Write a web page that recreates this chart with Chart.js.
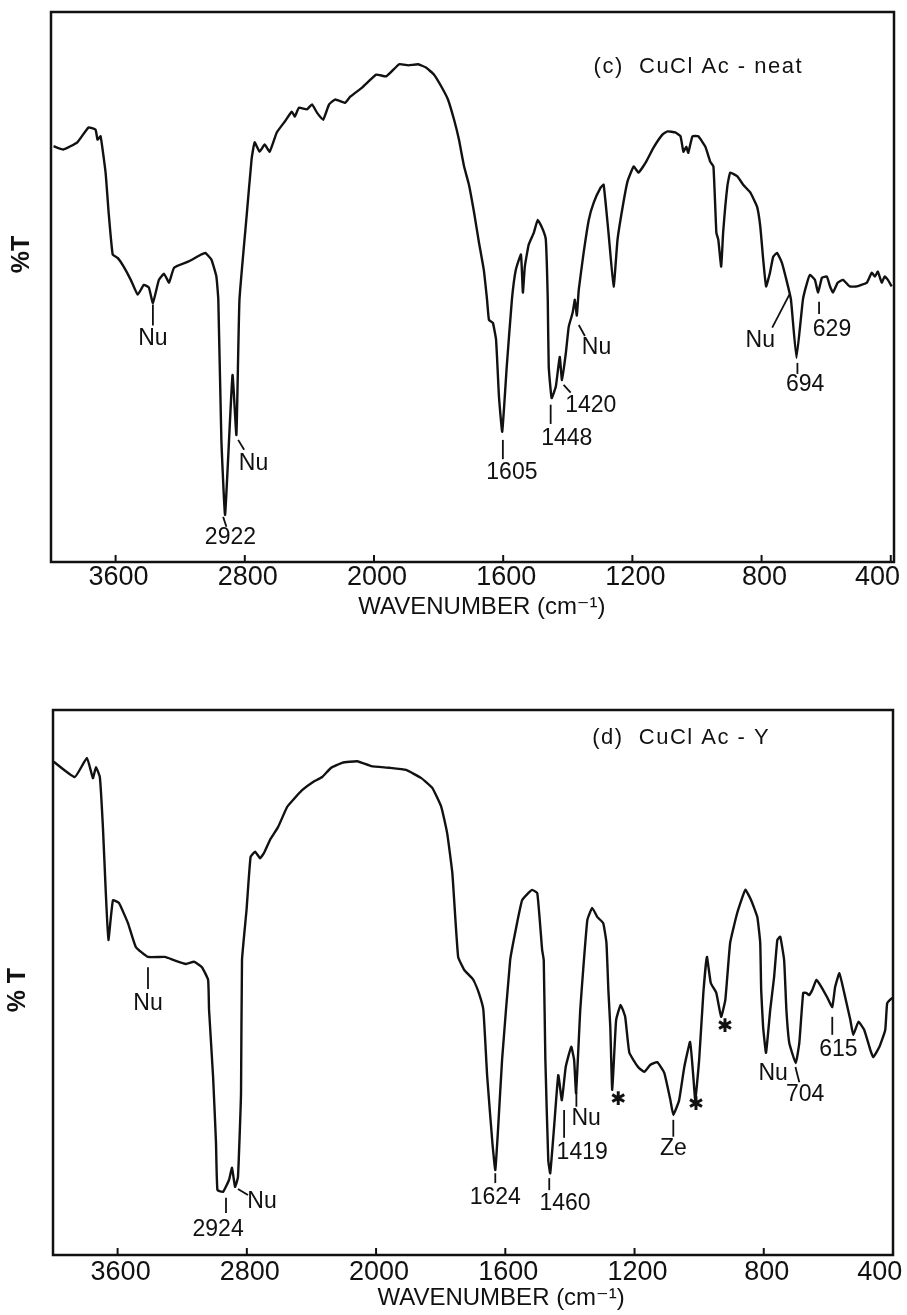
<!DOCTYPE html>
<html>
<head>
<meta charset="utf-8">
<script src="https://cdn.jsdelivr.net/npm/chart.js@4.4.1/dist/chart.umd.min.js"></script>
<style>
  html, body { margin: 0; padding: 0; background: #fff; }
  #wrap { position: relative; width: 907px; height: 1315px; }
  canvas { position: absolute; left: 0; }
  #chartC { top: 0; }
  #chartD { top: 650px; }
</style>
</head>
<body>
<div id="wrap">
  <canvas id="chartC" width="907" height="650"></canvas>
  <canvas id="chartD" width="907" height="665"></canvas>
</div>
<script>
// axis tick labels (cm-1); scale changes at 2000
const tickWavenumbers = [3600, 2800, 2000, 1600, 1200, 800, 400];

// (c) CuCl Ac - neat : wavenumber / %T (arbitrary 0-100 of frame height)
const wnC = [3984, 3924, 3837, 3768, 3724, 3712, 3693, 3662, 3643, 3618, 3587, 3550, 3506, 3463, 3425, 3394,
  3369, 3332, 3300, 3269, 3238, 3151, 3070, 3045, 3007, 2976, 2964, 2945, 2922, 2876, 2852, 2833,
  2789, 2758, 2739, 2708, 2677, 2646, 2602, 2552, 2509, 2490, 2465, 2415, 2384, 2353, 2315, 2278,
  2240, 2178, 2147, 2072, 1993, 1962, 1922, 1894, 1863, 1839, 1814, 1792, 1771, 1752, 1737, 1721,
  1706, 1690, 1675, 1660, 1650, 1644, 1632, 1622, 1613, 1603, 1589, 1573, 1561, 1545, 1539, 1533,
  1521, 1505, 1493, 1477, 1468, 1462, 1459, 1450, 1437, 1425, 1418, 1406, 1397, 1385, 1378, 1372,
  1366, 1351, 1335, 1320, 1298, 1289, 1274, 1258, 1246, 1230, 1215, 1196, 1181, 1159, 1135, 1107,
  1091, 1067, 1051, 1042, 1033, 1027, 1014, 996, 974, 959, 949, 940, 934, 925, 919, 906,
  897, 875, 857, 835, 814, 804, 795, 786, 774, 764, 752, 737, 721, 709, 692, 672,
  659, 650, 635, 625, 613, 598, 588, 579, 564, 548, 527, 505, 474, 459, 449, 440,
  428, 419, 409, 397];
const tC = [75.6, 75.0, 76.3, 79.0, 78.6, 76.8, 77.4, 70.8, 63.5, 55.9, 55.3, 53.7, 51.3, 48.6, 50.4, 49.9,
  47.1, 51.3, 52.4, 50.8, 53.5, 54.6, 55.9, 56.2, 55.0, 51.9, 47.7, 22.2, 8.6, 34.0, 23.1, 47.7,
  62.8, 73.2, 76.3, 74.6, 75.9, 74.6, 78.1, 80.1, 81.9, 81.0, 82.6, 82.3, 83.2, 81.7, 80.4, 83.2,
  84.1, 83.5, 84.6, 86.3, 88.6, 88.3, 90.5, 90.3, 90.5, 89.9, 88.6, 86.5, 84.1, 80.4, 76.8, 71.9,
  68.6, 63.5, 58.1, 53.1, 47.7, 44.0, 43.5, 40.4, 30.0, 23.7, 35.5, 47.7, 53.1, 55.9, 49.0, 53.7,
  57.7, 59.9, 62.2, 60.4, 58.6, 47.7, 35.5, 29.8, 31.9, 37.3, 33.1, 38.0, 42.8, 45.3, 47.7, 44.8,
  49.5, 56.2, 62.2, 65.3, 68.1, 68.6, 59.9, 50.1, 58.6, 64.6, 69.2, 71.9, 70.8, 72.6, 75.3, 77.7,
  78.3, 78.1, 77.4, 74.6, 75.5, 74.4, 77.4, 77.4, 75.5, 72.8, 71.9, 59.9, 58.6, 53.7, 59.9, 68.3,
  70.8, 70.1, 68.6, 67.2, 64.6, 61.0, 55.0, 50.1, 52.6, 55.5, 56.2, 54.4, 50.8, 47.7, 37.1, 47.7,
  50.8, 52.2, 51.3, 49.0, 51.7, 51.9, 50.1, 49.0, 50.8, 51.3, 50.1, 50.1, 50.8, 52.6, 51.9, 52.8,
  50.8, 51.9, 51.3, 50.1];

// (d) CuCl Ac - Y
const wnD = [3995, 3865, 3790, 3753, 3734, 3710, 3691, 3673, 3657, 3629, 3592, 3536, 3487, 3412, 3307, 3251,
  3177, 3127, 3078, 3040, 3034, 3009, 2991, 2982, 2947, 2910, 2892, 2873, 2855, 2836, 2830, 2802,
  2777, 2749, 2718, 2693, 2656, 2607, 2551, 2514, 2458, 2390, 2334, 2278, 2210, 2117, 2030, 1959,
  1907, 1860, 1826, 1798, 1780, 1764, 1746, 1727, 1699, 1682, 1668, 1656, 1640, 1631, 1622, 1610,
  1585, 1566, 1548, 1529, 1517, 1501, 1486, 1481, 1476, 1467, 1461, 1449, 1436, 1425, 1413, 1396,
  1387, 1381, 1368, 1359, 1346, 1331, 1315, 1297, 1287, 1281, 1275, 1269, 1257, 1243, 1229, 1216,
  1189, 1170, 1151, 1130, 1108, 1089, 1080, 1062, 1046, 1028, 1018, 1012, 1000, 987, 976, 964,
  947, 932, 919, 904, 882, 857, 839, 820, 811, 808, 802, 793, 780, 768, 758, 749,
  737, 730, 721, 701, 690, 678, 669, 660, 650, 637, 622, 603, 588, 579, 566, 551,
  532, 523, 507, 489, 470, 461, 442, 424, 418, 402];
const tD = [90.5, 87.7, 91.2, 87.5, 89.5, 87.7, 78.5, 66.4, 57.8, 65.1, 64.6, 60.9, 56.5, 54.7, 54.7, 54.1,
  53.4, 53.8, 52.8, 50.5, 45.0, 32.7, 20.6, 11.9, 11.6, 13.8, 16.0, 12.5, 14.3, 29.7, 54.1, 63.3,
  73.0, 74.0, 72.8, 73.8, 76.2, 78.5, 82.2, 83.5, 85.3, 86.8, 87.7, 89.4, 90.3, 90.6, 89.7, 89.4,
  89.0, 87.5, 85.7, 82.2, 77.4, 70.1, 54.7, 52.3, 50.5, 48.1, 45.0, 32.7, 20.6, 15.6, 23.5, 35.8,
  54.1, 60.2, 65.1, 66.4, 67.0, 66.4, 56.0, 54.1, 35.8, 17.4, 15.0, 23.5, 33.0, 28.4, 34.5, 38.2,
  35.8, 29.7, 45.0, 52.3, 61.5, 63.7, 62.0, 60.9, 57.3, 48.6, 41.8, 30.3, 43.1, 45.9, 43.7, 37.1,
  34.5, 33.6, 34.9, 35.4, 33.4, 28.4, 25.7, 28.4, 34.5, 39.1, 32.7, 28.4, 35.8, 48.1, 54.7, 49.9,
  48.1, 43.7, 46.8, 57.3, 62.8, 67.0, 65.1, 62.0, 57.3, 48.6, 41.8, 37.1, 45.0, 51.0, 57.8, 58.4,
  54.1, 45.0, 38.9, 35.2, 38.9, 48.1, 48.1, 47.7, 48.6, 50.5, 49.2, 47.2, 45.5, 49.2, 51.7, 48.1,
  43.1, 40.4, 42.8, 41.3, 37.6, 36.3, 38.2, 41.3, 46.2, 47.2];

// peak labels [text, wavenumber, %T] and leader lines [wn1, T1, wn2, T2]
const labelsC = [['Nu', 3369, 40.6], ['2922', 2889, 4.4], ['Nu', 2746, 17.8], ['1605', 1573, 16.2],
  ['1448', 1403, 22.4], ['1420', 1329, 28.4], ['Nu', 1311, 38.9], ['Nu', 804, 40.2],
  ['694', 665, 32.2], ['629', 582, 42.2]];
const leadersC = [[3369, 46.8, 3369, 43.0], [2934, 8.2, 2914, 6.4], [2841, 22.2, 2804, 20.4],
  [1601, 22.2, 1601, 18.7], [1453, 28.6, 1453, 25.1], [1413, 32.2, 1391, 30.8],
  [1366, 43.1, 1347, 41.1], [767, 42.6, 714, 48.6], [689, 36.2, 689, 34.2], [622, 47.3, 622, 45.1]];

const labelsD = [['Nu', 3412, 46.2], ['2924', 2978, 4.6], ['Nu', 2706, 9.7], ['1624', 1631, 10.6],
  ['1460', 1415, 9.5], ['1419', 1362, 18.7], ['Nu', 1350, 25.0], ['Ze', 1080, 19.6],
  ['Nu', 771, 33.2], ['704', 672, 29.5], ['615', 569, 37.6]];
const leadersD = [[3412, 52.8, 3412, 48.8], [2929, 10.5, 2929, 7.7], [2855, 12.1, 2793, 11.0],
  [1631, 15.0, 1631, 13.2], [1464, 14.1, 1464, 11.9], [1418, 26.6, 1418, 21.5],
  [1380, 29.9, 1380, 27.2], [1080, 24.8, 1080, 21.7], [702, 34.5, 690, 31.7], [588, 43.7, 588, 40.4]];
const starsD = [[1250, 28.4], [1009, 27.5], [919, 41.8]];

// x scale with the usual IR change of scale at 2000 cm-1 (800/unit above, 400/unit below)
function warp(v) { return v >= 2000 ? (v - 2000) / 800 : (v - 2000) / 400; }
class BrokenWaveScale extends Chart.LinearScale {
  getPixelForValue(value) {
    const d = (warp(this.max) - warp(value)) / (warp(this.max) - warp(this.min));
    return this.getPixelForDecimal(d);
  }
  getValueForPixel(pixel) {
    const u = warp(this.max) - this.getDecimalForPixel(pixel) * (warp(this.max) - warp(this.min));
    return u >= 0 ? 2000 + u * 800 : 2000 + u * 400;
  }
}
BrokenWaveScale.id = 'brokenwave';
BrokenWaveScale.defaults = Chart.LinearScale.defaults;
Chart.register(BrokenWaveScale);

const FONT = '"Liberation Sans", "DejaVu Sans", sans-serif';

function makeDecor(cfg) {
  return {
    id: 'irDecor',
    afterDraw(chart) {
      const { ctx, chartArea: a, scales: { x, y } } = chart;
      ctx.save();
      ctx.strokeStyle = '#111';
      ctx.fillStyle = '#111';
      // frame
      ctx.lineWidth = 2.5;
      ctx.strokeRect(a.left, a.top, a.right - a.left, a.bottom - a.top);
      // tick marks pointing inward
      ctx.lineWidth = 2;
      x.ticks.forEach(t => {
        const px = x.getPixelForValue(t.value);
        ctx.beginPath();
        ctx.moveTo(px, a.bottom);
        ctx.lineTo(px, a.bottom - 7);
        ctx.stroke();
      });
      // leader lines
      ctx.lineWidth = 1.8;
      cfg.leaders.forEach(([w1, t1, w2, t2]) => {
        ctx.beginPath();
        ctx.moveTo(x.getPixelForValue(w1), y.getPixelForValue(t1));
        ctx.lineTo(x.getPixelForValue(w2), y.getPixelForValue(t2));
        ctx.stroke();
      });
      ctx.textAlign = 'center';
      ctx.textBaseline = 'middle';
      ctx.font = '23px ' + FONT;
      cfg.labels.forEach(([txt, w, t]) => ctx.fillText(txt, x.getPixelForValue(w), y.getPixelForValue(t)));
      ctx.font = 'bold 19px "DejaVu Sans", sans-serif';
      (cfg.stars || []).forEach(([w, t]) => ctx.fillText('\u2731', x.getPixelForValue(w), y.getPixelForValue(t)));
      // axis title
      ctx.font = '24px ' + FONT;
      ctx.fillText('WAVENUMBER (cm\u207B\u00B9)', x.getPixelForValue(cfg.axisTitleWn), a.bottom + cfg.axisTitleGap);
      // panel title
      ctx.textAlign = 'left';
      ctx.font = '22px ' + FONT;
      ctx.letterSpacing = '1.5px';
      ctx.fillText(cfg.title, x.getPixelForValue(cfg.titleAt[0]), y.getPixelForValue(cfg.titleAt[1]));
      ctx.letterSpacing = '0px';
      // y title
      ctx.translate(a.left - cfg.yTitleGap, y.getPixelForValue(cfg.yTitleT));
      ctx.rotate(-Math.PI / 2);
      ctx.textAlign = 'center';
      ctx.font = 'bold 25px ' + FONT;
      ctx.fillText(cfg.yTitle, 0, 0);
      ctx.restore();
    }
  };
}

function buildChart(id, wn, t, cfg) {
  return new Chart(document.getElementById(id), {
    type: 'line',
    data: {
      datasets: [{
        data: wn.map((w, i) => ({ x: w, y: t[i] })),
        borderColor: '#111',
        borderWidth: 2.4,
        pointRadius: 0,
        tension: 0.12,
        fill: false
      }]
    },
    options: {
      responsive: false,
      animation: false,
      events: [],
      layout: { padding: cfg.padding },
      plugins: { legend: { display: false }, tooltip: { enabled: false } },
      scales: {
        x: {
          type: 'brokenwave',
          min: cfg.xMin,
          max: 4000,
          afterFit: s => { s.height = cfg.axisHeight; s.paddingLeft = 0; s.paddingRight = 0; },
          afterBuildTicks: s => { s.ticks = tickWavenumbers.map(v => ({ value: v })); },
          grid: { display: false, drawTicks: false },
          border: { display: false },
          ticks: {
            autoSkip: false, maxRotation: 0, minRotation: 0,
            padding: cfg.tickPad, labelOffset: 3, color: '#111',
            font: { family: 'Liberation Sans', size: 27, lineHeight: 1 },
            callback: v => v === 400 ? '400\u2003\u2009' : String(v)
          }
        },
        y: { display: false, min: 0, max: 100 }
      }
    },
    plugins: [makeDecor(cfg)]
  });
}

buildChart('chartC', wnC, tC, {
  padding: { left: 51, right: 13, top: 12, bottom: 28 },
  axisHeight: 60, tickPad: 2, xMin: 390,
  labels: labelsC, leaders: leadersC,
  title: '(c)  CuCl Ac - neat', titleAt: [1320, 90.1],
  yTitle: '%T', yTitleT: 55.9, yTitleGap: 29,
  axisTitleWn: 1666, axisTitleGap: 45
});

buildChart('chartD', wnD, tD, {
  padding: { left: 53, right: 14, top: 60, bottom: 10 },
  axisHeight: 50, tickPad: 4, xMin: 400,
  labels: labelsD, leaders: leadersD, stars: starsD,
  title: '(d)  CuCl Ac - Y', titleAt: [1331, 94.9],
  yTitle: '% T', yTitleT: 48.6, yTitleGap: 35,
  axisTitleWn: 1613, axisTitleGap: 43
});
</script>
</body>
</html>
